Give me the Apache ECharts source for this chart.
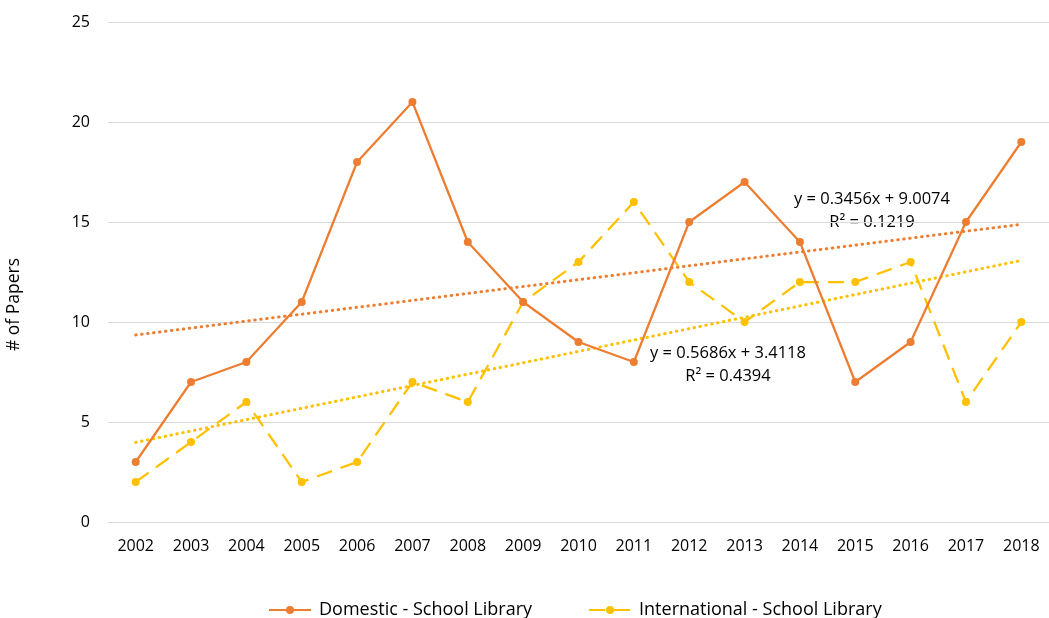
<!DOCTYPE html>
<html>
<head>
<meta charset="utf-8">
<script src="https://cdn.jsdelivr.net/npm/echarts@6/dist/echarts.min.js"></script>
<style>
  html, body { margin: 0; padding: 0; background: #fff; }
  #chart { width: 1049px; height: 618px; }
</style>
</head>
<body>
<div id="chart"></div>
<script>
const years = ['2002', '2003', '2004', '2005', '2006', '2007', '2008', '2009', '2010',
  '2011', '2012', '2013', '2014', '2015', '2016', '2017', '2018']
const domestic = [3, 7, 8, 11, 18, 21, 14, 11, 9, 8, 15, 17, 14, 7, 9, 15, 19]
const international = [2, 4, 6, 2, 3, 7, 6, 11, 13, 16, 12, 10, 12, 12, 13, 6, 10]

// trendline coefficients as printed on the chart (x = 1..17)
const domesticFit = { slope: 0.3456, intercept: 9.0074, r2: '0.1219' }
const internationalFit = { slope: 0.5686, intercept: 3.4118, r2: '0.4394' }

const ORANGE = '#ED7D31'
const GOLD = '#FFC000'
const FONT = '"Open Sans", sans-serif'

const trendData = (fit) => [
  [years[0], fit.slope * 1 + fit.intercept],
  [years[years.length - 1], fit.slope * years.length + fit.intercept]
]

const trendSeries = (name, fit, color) => ({
  name: name,
  type: 'line',
  data: trendData(fit),
  symbol: 'none',
  silent: true,
  z: 1,
  lineStyle: { color: color, width: 3, type: [0.5, 5.5], cap: 'round' }
})

const chart = echarts.init(document.getElementById('chart'))
chart.setOption({
  animation: false,
  textStyle: { fontFamily: FONT },
  grid: { left: 108, right: 0, top: 22, bottom: 96 },
  legend: {
    top: 596,
    left: 263,
    itemGap: 56,
    itemWidth: 42,
    itemHeight: 10,
    textStyle: { fontSize: 18, color: '#000', fontFamily: FONT, padding: [0, 0, 0, 3] },
    data: ['Domestic - School Library', 'International - School Library']
  },
  xAxis: {
    type: 'category',
    data: years,
    axisTick: { show: false },
    axisLine: { lineStyle: { color: '#d9d9d9', width: 1 } },
    axisLabel: { fontSize: 16, color: '#000', margin: 16 }
  },
  yAxis: {
    type: 'value',
    min: 0,
    max: 25,
    interval: 5,
    axisLine: { show: false },
    axisTick: { show: false },
    axisLabel: { fontSize: 16, color: '#000', margin: 18 },
    splitLine: { lineStyle: { color: '#d9d9d9', width: 1 } }
  },
  graphic: [
    {
      type: 'text', left: 5, top: 258,
      rotation: Math.PI / 2,
      style: { text: '# of Papers', fontSize: 17.5, fill: '#000', fontFamily: FONT }
    },
    {
      type: 'text', x: 872, y: 188,
      style: {
        text: 'y = ' + domesticFit.slope + 'x + ' + domesticFit.intercept + '\nR² = ' + domesticFit.r2,
        fontSize: 16.5, fill: '#000', fontFamily: FONT, align: 'center', lineHeight: 23
      }
    },
    {
      type: 'text', x: 728, y: 342,
      style: {
        text: 'y = ' + internationalFit.slope + 'x + ' + internationalFit.intercept + '\nR² = ' + internationalFit.r2,
        fontSize: 16.5, fill: '#000', fontFamily: FONT, align: 'center', lineHeight: 23
      }
    }
  ],
  series: [
    {
      name: 'Domestic - School Library',
      type: 'line',
      data: domestic,
      symbol: 'circle',
      symbolSize: 8,
      z: 3,
      itemStyle: { color: ORANGE },
      lineStyle: { color: ORANGE, width: 2.25 }
    },
    {
      name: 'International - School Library',
      type: 'line',
      data: international,
      symbol: 'circle',
      symbolSize: 8,
      z: 2,
      itemStyle: { color: GOLD },
      lineStyle: { color: GOLD, width: 2.25, type: [16, 9] }
    },
    trendSeries('Domestic trend', domesticFit, ORANGE),
    trendSeries('International trend', internationalFit, GOLD)
  ]
})
</script>
</body>
</html>
